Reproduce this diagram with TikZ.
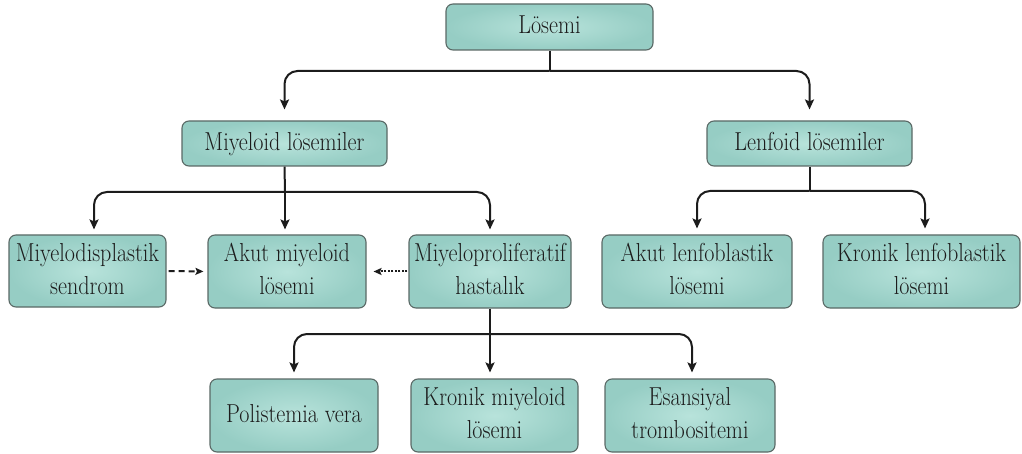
\documentclass[tikz,border=0pt]{standalone}
\usepackage{graphicx}
\usetikzlibrary{arrows.meta}
\definecolor{boxin}{RGB}{184,227,219}
\definecolor{boxout}{RGB}{150,205,196}
\definecolor{boxedge}{RGB}{90,105,102}
\definecolor{ink}{RGB}{28,28,28}
\newcommand{\bx}[1]{\scalebox{0.85}[1]{\begin{tabular}{@{}c@{}}#1\end{tabular}}}
\tikzset{
  box/.style={draw=boxedge, line width=1.1pt, inner color=boxin, outer color=boxout,
    rounded corners=7pt, align=center, inner sep=0pt, text=ink,
    font=\fontsize{26}{33}\selectfont},
  conn/.style={draw=ink, line width=2pt, rounded corners=13pt},
  arr/.style={conn, -{Stealth[length=10pt,width=9pt,inset=2pt]}},
  dasharr/.style={draw=ink, line width=2pt, dash pattern=on 6pt off 4pt,
    -{Stealth[length=8pt,width=7pt,inset=1.5pt]}},
  dotarr/.style={draw=ink, line width=2pt, dash pattern=on 2pt off 1.5pt,
    -{Stealth[length=8pt,width=7pt,inset=1.5pt]}}
}
\begin{document}
\begin{tikzpicture}[x=1pt,y=-1pt]
\useasboundingbox (0,0) rectangle (1022,454);
% nodes
\node[box, minimum width=207pt, minimum height=46pt] (los) at (549.5,27) {\bx{Lösemi}};
\node[box, minimum width=205pt, minimum height=45pt] (miy) at (284.5,143.5) {\bx{Miyeloid lösemiler}};
\node[box, minimum width=205pt, minimum height=45pt] (len) at (809.5,143.5) {\bx{Lenfoid lösemiler}};
\node[box, minimum width=157pt, minimum height=72pt] (mds) at (87.5,271) {\bx{Miyelodisplastik\\sendrom}};
\node[box, minimum width=158pt, minimum height=73pt] (aml) at (287,271.5) {\bx{Akut miyeloid\\lösemi}};
\node[box, minimum width=162pt, minimum height=73pt] (mpd) at (490,271.5) {\bx{Miyeloproliferatif\\hastalık}};
\node[box, minimum width=190pt, minimum height=73pt] (all) at (697,271.5) {\bx{Akut lenfoblastik\\lösemi}};
\node[box, minimum width=197pt, minimum height=73pt] (cll) at (921.5,271.5) {\bx{Kronik lenfoblastik\\lösemi}};
\node[box, minimum width=168pt, minimum height=73pt] (pv) at (294,415.5) {\bx{Polistemia vera}};
\node[box, minimum width=167pt, minimum height=73pt] (cml) at (494.5,415.5) {\bx{Kronik miyeloid\\lösemi}};
\node[box, minimum width=170pt, minimum height=73pt] (et) at (690,415.5) {\bx{Esansiyal\\trombositemi}};
% junctions
\coordinate (j1) at (549.5,71);
\coordinate (j2) at (285,192);
\coordinate (j3) at (809.5,191);
\coordinate (j4) at (490,334);
% connectors
\draw[conn] (los.south) -- (j1);
\draw[arr, shorten >=11pt] (j1) -| (miy.north);
\draw[arr, shorten >=11pt] (j1) -| (len.north);
\draw[conn] (miy.south) -- (j2);
\draw[arr, shorten >=5pt] (j2) -| ([xshift=6.5pt]mds.north);
\draw[arr, shorten >=5pt] (j2) -- (j2 |- aml.north);
\draw[arr, shorten >=5pt] (j2) -| (mpd.north);
\draw[conn] (len.south) -- (j3);
\draw[arr, shorten >=6pt] (j3) -| (all.north);
\draw[arr, shorten >=6pt] (j3) -| ([xshift=3.5pt]cll.north);
\draw[conn] (mpd.south) -- (j4);
\draw[arr, shorten >=6pt] (j4) -| (pv.north);
\draw[arr, shorten >=6pt] (j4) -- (j4 |- cml.north);
\draw[arr, shorten >=6pt] (j4) -| ([xshift=2pt]et.north);
\draw[dasharr, shorten <=2pt, shorten >=4pt] (mds.east) -- (aml.west);
\draw[dotarr, shorten <=1pt, shorten >=7pt] (mpd.west) -- (aml.east);
\end{tikzpicture}
\end{document}
